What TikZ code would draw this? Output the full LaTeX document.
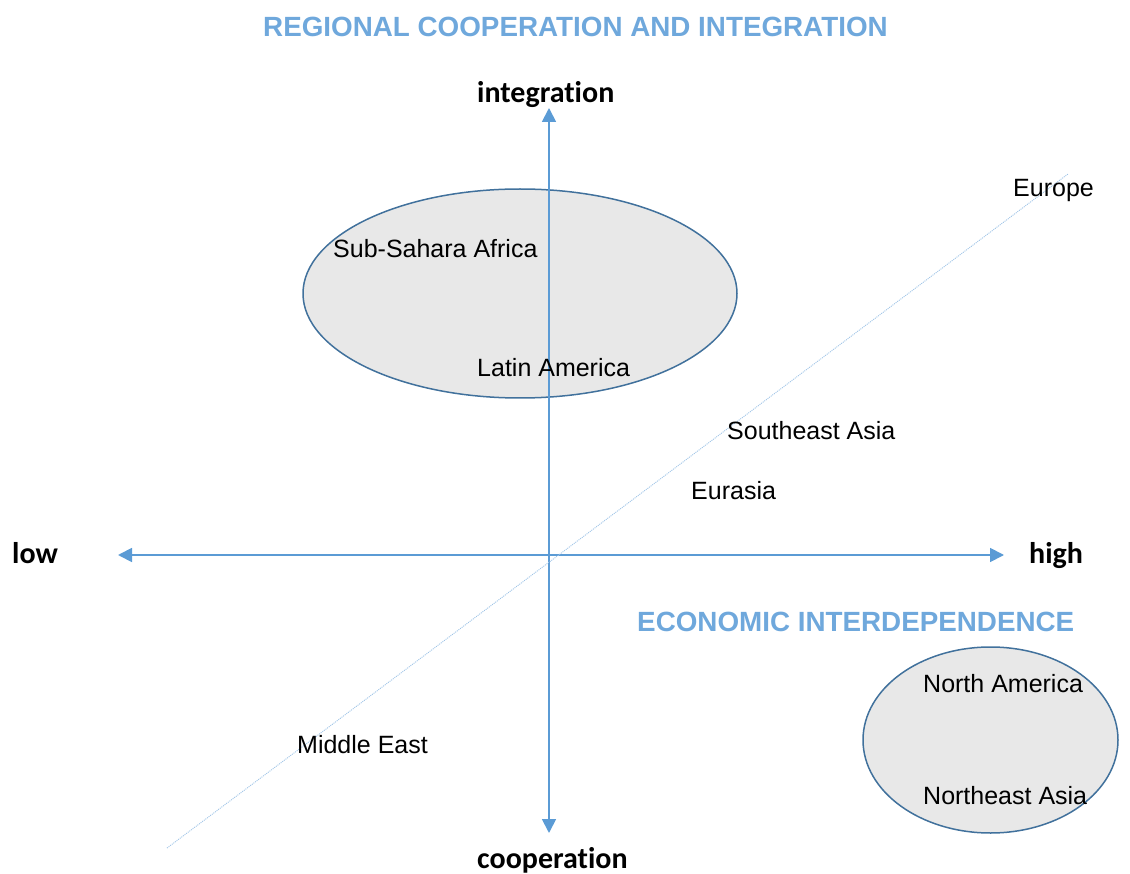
\documentclass[tikz,border=0pt]{standalone}
\usepackage{fontspec}
\setmainfont{Liberation Sans}
\newfontfamily\calibfont[Ligatures={NoCommon}]{Carlito}
\usetikzlibrary{arrows.meta,shapes.geometric}
\definecolor{axisblue}{HTML}{5B9BD5}
\definecolor{titleblue}{HTML}{6FA8DC}
\definecolor{ellborder}{HTML}{41719C}
\definecolor{ellfill}{HTML}{E8E8E8}
\definecolor{diagblue}{HTML}{9DC3E6}
\begin{document}
\begin{tikzpicture}[x=1pt,y=-1pt,
  region/.style={font=\fontsize{25}{30}\selectfont, inner sep=0pt, anchor=base west, text=black},
  axislabel/.style={font=\calibfont\bfseries\fontsize{30}{36}\selectfont, inner sep=0pt, anchor=base west},
  heading/.style={font=\bfseries\fontsize{27.8}{33}\selectfont, text=titleblue, inner sep=0pt, anchor=base west},
  blob/.style={ellipse, draw=ellborder, fill=ellfill, line width=1.5pt, inner sep=0pt},
  axisline/.style={draw=axisblue, line width=1.8pt, {Triangle[length=14pt,width=14pt]}-{Triangle[length=14pt,width=14pt]}},
  diagline/.style={draw=diagblue, line width=0.9pt, dash pattern=on 1pt off 1pt}]
\useasboundingbox (0,0) rectangle (1130,874);

% ellipses
\node[blob, minimum width=434pt, minimum height=209pt] (e1) at (520,293.5) {};
\node[blob, minimum width=255pt, minimum height=186pt] (e2) at (990.5,740) {};

% axes
\coordinate (top) at (549,108);
\coordinate (bot) at (549,833);
\coordinate (lft) at (118,555);
\coordinate (rgt) at (1004,555);
\draw[axisline] (bot) -- (top);
\draw[axisline] (lft) -- (rgt);

% diagonal
\coordinate (d1) at (167,848);
\coordinate (d2) at (1068,174);
\draw[diagline] (d1) -- (d2);

% headings
\node[heading] (t1) at (263,37) {REGIONAL COOPERATION AND INTEGRATION};
\node[heading] (t2) at (637,631) {ECONOMIC INTERDEPENDENCE};

% axis labels
\node[axislabel] (lint) at (477,103) {integration};
\node[axislabel] (lcoop) at (477,868) {cooperation};
\node[axislabel] (llow) at (12,563) {low};
\node[axislabel] (lhigh) at (1029,563) {high};

% regions
\node[region] (eu) at (1013,197) {Europe};
\node[region] (ssa) at (333,258) {Sub-Sahara Africa};
\node[region] (la) at (477,377) {Latin America};
\node[region] (sea) at (727,439) {Southeast Asia};
\node[region] (eur) at (691,499) {Eurasia};
\node[region] (me) at (297,753) {Middle East};
\node[region] (na) at (923,692) {North America};
\node[region] (nea) at (923,804) {Northeast Asia};
\end{tikzpicture}
\end{document}
